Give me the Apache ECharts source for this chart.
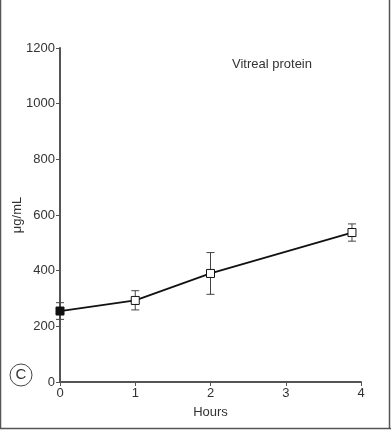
<!DOCTYPE html>
<html><head><meta charset="utf-8">
<script src="https://cdn.jsdelivr.net/npm/echarts@6/dist/echarts.min.js"></script>
<style>html,body{margin:0;padding:0;background:#fff}#c{width:391px;height:430px}</style>
</head><body><div id="c"></div>
<script>
const hours = [0, 1, 2, 3.88];
const means = [255, 293, 390, 537];
const lower = [225, 259, 315, 506];
const upper = [285, 328, 465, 568];
const xTicks = [0, 1, 2, 3, 4];
const yTicks = [0, 200, 400, 600, 800, 1000, 1200];

const chart = echarts.init(document.getElementById('c'), null, {renderer: 'canvas'});
const font = 'Liberation Sans, Arial, sans-serif';
const axisColor = '#555';
const pts = hours.map((h, i) => ({
  value: [h, means[i]],
  itemStyle: i === 0 ? {color: '#111', borderColor: '#111'} : {color: '#fff', borderColor: '#111'}
}));
chart.setOption({
  animation: false,
  grid: {left: 60, right: 30, top: 48, bottom: 48, outerBoundsMode: 'none', containLabel: false},
  xAxis: {
    type: 'value', min: xTicks[0], max: xTicks[xTicks.length - 1], interval: 1,
    name: 'Hours', nameLocation: 'middle', nameGap: 24, nameMoveOverlap: false,
    nameTextStyle: {color: '#333', fontSize: 13, fontFamily: font},
    axisLine: {lineStyle: {color: axisColor, width: 2}},
    axisTick: {show: true, length: 4, lineStyle: {color: axisColor}},
    axisLabel: {color: '#333', fontSize: 13, fontFamily: font, margin: 5},
    splitLine: {show: false}
  },
  yAxis: {
    type: 'value', min: yTicks[0], max: yTicks[yTicks.length - 1], interval: 200,
    name: 'μg/mL', nameLocation: 'middle', nameGap: 36, nameMoveOverlap: false,
    nameTextStyle: {color: '#333', fontSize: 13, fontFamily: font},
    axisLine: {show: true, lineStyle: {color: axisColor, width: 2}},
    axisTick: {show: true, length: 4, lineStyle: {color: axisColor}},
    axisLabel: {color: '#333', fontSize: 13, fontFamily: font, margin: 5, formatter: v => String(v)},
    splitLine: {show: false}
  },
  series: [
    {
      type: 'custom',
      data: hours.map((h, i) => [h, lower[i], upper[i]]),
      z: 1,
      renderItem: function (params, api) {
        const lo = api.coord([api.value(0), api.value(1)]);
        const hi = api.coord([api.value(0), api.value(2)]);
        const w = 4;
        const st = {stroke: '#444', lineWidth: 1};
        return {type: 'group', children: [
          {type: 'line', shape: {x1: lo[0], y1: lo[1], x2: hi[0], y2: hi[1]}, style: st},
          {type: 'line', shape: {x1: lo[0] - w, y1: lo[1], x2: lo[0] + w, y2: lo[1]}, style: st},
          {type: 'line', shape: {x1: hi[0] - w, y1: hi[1], x2: hi[0] + w, y2: hi[1]}, style: st}
        ]};
      }
    },
    {
      type: 'line', data: pts, z: 3,
      symbol: 'rect', symbolSize: 8,
      lineStyle: {color: '#111', width: 1.8},
      itemStyle: {borderWidth: 1}
    }
  ],
  graphic: [
    {type: 'text', left: 232, top: 58, style: {text: 'Vitreal protein', fill: '#333', font: '13px ' + font}},
    {type: 'circle', shape: {cx: 21, cy: 375, r: 11}, style: {fill: 'none', stroke: '#444', lineWidth: 1}},
    {type: 'text', x: 21, y: 375, style: {text: 'C', fill: '#333', font: '15px ' + font, align: 'center', verticalAlign: 'middle'}},
    {type: 'line', shape: {x1: 0.5, y1: 0, x2: 0.5, y2: 429}, style: {stroke: '#555', lineWidth: 1.5}},
    {type: 'line', shape: {x1: 389.5, y1: 0, x2: 389.5, y2: 429}, style: {stroke: '#555', lineWidth: 1.5}},
    {type: 'line', shape: {x1: 0, y1: 428.5, x2: 391, y2: 428.5}, style: {stroke: '#555', lineWidth: 1.5}}
  ]
});
</script></body></html>
